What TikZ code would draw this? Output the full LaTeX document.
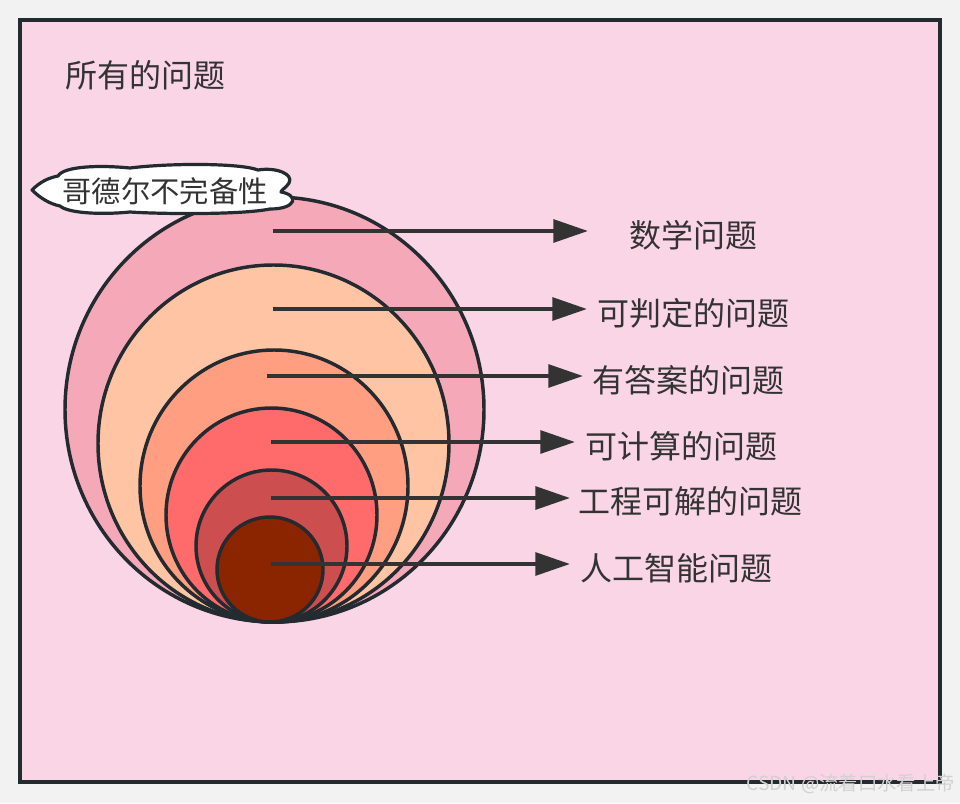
\documentclass[tikz,border=0pt]{standalone}
\usepackage{fontspec}
\setmainfont{Noto Sans CJK SC}
\usetikzlibrary{arrows.meta,shapes.geometric}
\definecolor{pagebg}{HTML}{F2F2F2}
\definecolor{framebg}{HTML}{F9D5E5}
\definecolor{linecol}{HTML}{232A30}
\definecolor{txt}{HTML}{333333}
\definecolor{cA}{HTML}{F5A9B8}
\definecolor{cB}{HTML}{FFC4A3}
\definecolor{cC}{HTML}{FF9E80}
\definecolor{cD}{HTML}{FF6B6B}
\definecolor{cE}{HTML}{CC4E4E}
\definecolor{cF}{HTML}{8B2500}
\tikzset{
  ring/.style={ellipse, draw=linecol, line width=2.6pt, inner sep=0pt},
  ptr/.style={draw=txt, line width=3pt, -{Triangle[length=26pt,width=17pt]}},
  lbl/.style={text=txt, font=\fontsize{24}{27}\selectfont, inner sep=0pt, anchor=west},
}
\begin{document}
\begin{tikzpicture}[x=0.75pt,y=-0.75pt]
\useasboundingbox (0,0) rectangle (960,803);
\fill[pagebg] (0,0) rectangle (960,803);
\node[draw=linecol, fill=framebg, line width=3pt, minimum width=920pt*0.75, minimum height=762pt*0.75, inner sep=0pt] (frame) at (480,400.5) {};
\node[text=txt, font=\fontsize{24}{27}\selectfont, anchor=west, inner sep=0pt] (all) at (65,75) {所有的问题};

\node[ring, fill=cA, minimum width=419pt*0.75, minimum height=425pt*0.75] (e1) at (274.5,409.5) {};
\node[ring, fill=cB, minimum width=351pt*0.75, minimum height=357pt*0.75] (e2) at (273.5,443.5) {};
\node[ring, fill=cC, minimum width=268pt*0.75, minimum height=272pt*0.75] (e3) at (274,486) {};
\node[ring, fill=cD, minimum width=211pt*0.75, minimum height=214pt*0.75] (e4) at (271.5,515) {};
\node[ring, fill=cE, minimum width=151pt*0.75, minimum height=152pt*0.75] (e5) at (271.5,546) {};
\node[ring, fill=cF, minimum width=106pt*0.75, minimum height=105pt*0.75] (e6) at (270,569.5) {};

\draw[draw=linecol, fill=white, line width=2.4pt, line join=round]
  (32,190) .. controls (40,182) and (48,178) .. (58,176)
  .. controls (64,166) and (100,165) .. (130,168)
  .. controls (170,163) and (240,163) .. (258,170)
  .. controls (276,167) and (294,174) .. (289,183)
  .. controls (286,188) and (281,190) .. (281,192)
  .. controls (299,195) and (297,209) .. (270,209)
  .. controls (240,215) and (160,214) .. (130,212)
  .. controls (100,215) and (68,213) .. (60,206)
  .. controls (50,204) and (40,198) .. (32,190) -- cycle;
\node[text=txt, font=\fontsize{22}{24}\selectfont, inner sep=0pt] (godeltxt) at (165,191) {哥德尔不完备性};

\coordinate (s1) at (273,231); \coordinate (t1) at (588,231);
\coordinate (s2) at (273,309); \coordinate (t2) at (587,309);
\coordinate (s3) at (267,376); \coordinate (t3) at (583,376);
\coordinate (s4) at (271,442); \coordinate (t4) at (575,442);
\coordinate (s5) at (271,498); \coordinate (t5) at (570,498);
\coordinate (s6) at (271,564); \coordinate (t6) at (570,564);
\draw[ptr] (s1) -- (t1);
\draw[ptr] (s2) -- (t2);
\draw[ptr] (s3) -- (t3);
\draw[ptr] (s4) -- (t4);
\draw[ptr] (s5) -- (t5);
\draw[ptr] (s6) -- (t6);
\node[lbl] (l1) at (629,235) {数学问题};
\node[lbl] (l2) at (597,313) {可判定的问题};
\node[lbl] (l3) at (592,380) {有答案的问题};
\node[lbl] (l4) at (585,446) {可计算的问题};
\node[lbl] (l5) at (578,501) {工程可解的问题};
\node[lbl] (l6) at (580,568) {人工智能问题};

\node[text=black!18, font=\fontsize{14.5}{16}\selectfont, anchor=east, inner sep=0pt] (wm) at (955,784) {CSDN @流着口水看上帝};
\end{tikzpicture}
\end{document}
